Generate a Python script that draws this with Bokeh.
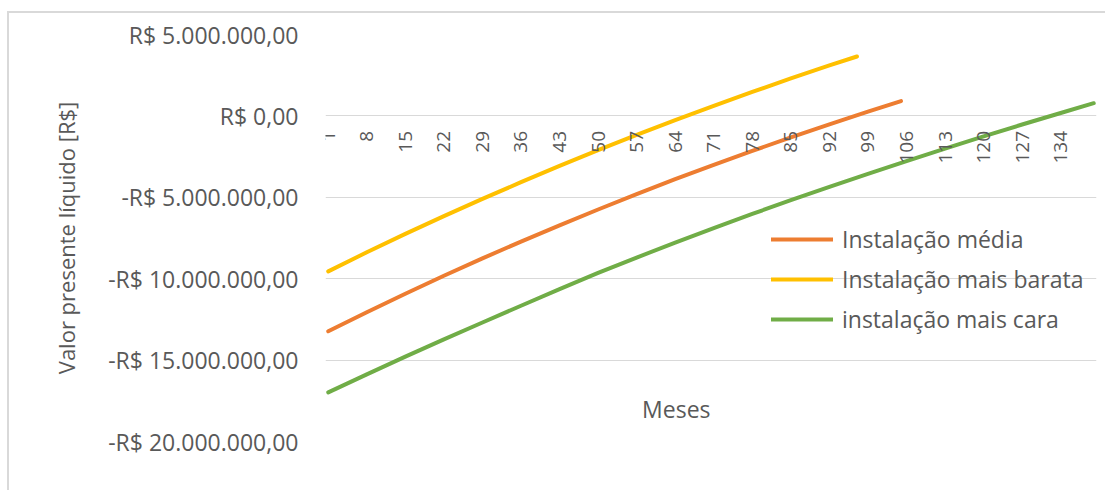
from math import pi

from bokeh.embed import file_html
from bokeh.models import (FixedTicker, Label, Legend, LegendItem,
                          LinearAxis, Range1d)
from bokeh.plotting import figure
from bokeh.resources import INLINE

# Valor presente líquido acumulado (R$) por mês, para cada cenário de instalação
meses_media = [1, 8, 15, 22, 29, 36, 43, 50, 57, 64, 71, 78, 85, 92, 99, 105]
vpl_media = [-13230000, -12060000, -10920000, -9820000, -8750000, -7720000,
             -6720000, -5750000, -4800000, -3890000, -3010000, -2150000,
             -1320000, -520000, 260000, 910000]

meses_barata = [1, 8, 15, 22, 29, 36, 43, 50, 57, 64, 71, 78, 85, 92, 97]
vpl_barata = [-9550000, -8380000, -7250000, -6160000, -5100000, -4070000,
              -3070000, -2100000, -1170000, -260000, 620000, 1470000,
              2300000, 3100000, 3650000]

meses_cara = [1, 8, 15, 22, 29, 36, 43, 50, 57, 64, 71, 78, 85, 92, 99, 106,
              113, 120, 127, 134, 140]
vpl_cara = [-16980000, -15880000, -14790000, -13730000, -12690000, -11660000,
            -10640000, -9640000, -8700000, -7780000, -6890000, -6020000,
            -5180000, -4360000, -3560000, -2780000, -2010000, -1260000,
            -530000, 180000, 780000]

nomes_series = ["Instalação média", "Instalação mais barata", "instalação mais cara"]
cores_series = ["#ED7D31", "#FFC000", "#70AD47"]

# Eixos
meses_rotulados = [1, 8, 15, 22, 29, 36, 43, 50, 57, 64, 71, 78, 85, 92, 99,
                   106, 113, 120, 127, 134]
valores_eixo_y = [5000000, 0, -5000000, -10000000, -15000000, -20000000]
rotulos_eixo_y = ["R$ 5.000.000,00", "R$ 0,00", "-R$ 5.000.000,00",
                  "-R$ 10.000.000,00", "-R$ 15.000.000,00", "-R$ 20.000.000,00"]

FONTE = "Open Sans"
CINZA_TEXTO = "#595959"
CINZA_GRADE = "#D9D9D9"

# A moldura (borda esquerda e superior) fica deslocada da página
p = figure(width=1098, height=479, output_backend="svg", toolbar_location=None,
           x_range=Range1d(0.5, 140.5), y_range=Range1d(-20000000, 5000000),
           x_axis_location=None,
           min_border_left=316, min_border_right=11,
           min_border_top=21, min_border_bottom=51)
p.margin = (11, 0, 0, 7)
p.styles = {"border-left": "2px solid " + CINZA_GRADE,
            "border-top": "2px solid " + CINZA_GRADE}
p.outline_line_color = None
p.background_fill_color = "white"
p.border_fill_color = "white"

# Grade horizontal e eixo vertical
ticker_y = FixedTicker(ticks=valores_eixo_y)
p.yaxis.ticker = ticker_y
p.ygrid.ticker = ticker_y
p.ygrid.grid_line_color = CINZA_GRADE
p.ygrid.grid_line_width = 1
p.xgrid.visible = False

yax = p.yaxis[0]
yax.major_label_overrides = dict(zip(valores_eixo_y, rotulos_eixo_y))
yax.axis_line_color = None
yax.major_tick_line_color = None
yax.minor_tick_line_color = None
yax.major_label_standoff = 21
yax.major_label_text_font = FONTE
yax.major_label_text_font_size = "23px"
yax.major_label_text_color = CINZA_TEXTO
yax.axis_label = "Valor presente líquido [R$]"
yax.axis_label_text_font = FONTE
yax.axis_label_text_font_size = "22px"
yax.axis_label_text_font_style = "normal"
yax.axis_label_text_color = CINZA_TEXTO
yax.axis_label_standoff = 24

# Eixo das categorias (meses), cruzando em R$ 0,00
xax = LinearAxis(fixed_location=0, ticker=FixedTicker(ticks=meses_rotulados))
xax.axis_line_color = None
xax.major_tick_line_color = None
xax.minor_tick_line_color = None
xax.major_tick_out = 0
xax.major_tick_in = 0
xax.major_label_orientation = pi / 2
xax.major_label_standoff = 15
xax.major_label_text_font = FONTE
xax.major_label_text_font_size = "19px"
xax.major_label_text_color = CINZA_TEXTO
p.add_layout(xax, "below")

# Séries
series = [(meses_media, vpl_media), (meses_barata, vpl_barata), (meses_cara, vpl_cara)]
itens = []
for (mx, vy), nome, cor in zip(series, nomes_series, cores_series):
    r = p.line(mx, vy, line_color=cor, line_width=4,
               line_join="round", line_cap="round")
    itens.append(LegendItem(label=nome, renderers=[r]))

legenda = Legend(items=itens, location=(446, 102), orientation="vertical",
                 padding=0, margin=0, spacing=0,
                 glyph_width=62, glyph_height=40, label_height=40,
                 label_standoff=9,
                 label_text_font=FONTE, label_text_font_size="23px",
                 label_text_color=CINZA_TEXTO,
                 border_line_color=None, background_fill_alpha=0)
p.add_layout(legenda)

# Título do eixo horizontal
p.add_layout(Label(x=64.2, y=-18000000, text="Meses", text_align="center",
                   text_baseline="middle", text_font=FONTE,
                   text_font_size="23px", text_color=CINZA_TEXTO))

open("out.html", "w").write(file_html(p, INLINE))
